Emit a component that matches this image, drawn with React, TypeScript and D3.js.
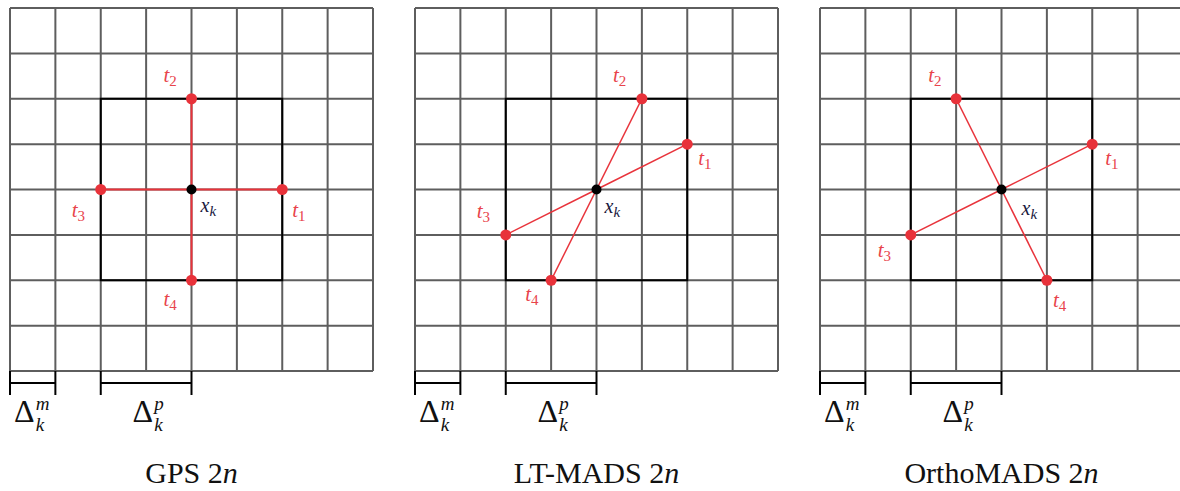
import * as d3 from "d3";

const width = 1180;
const height = 491;

// three poll strategies, same 8x8 mesh around x_k
const panelNames = ["GPS", "LT-MADS", "OrthoMADS"];
const meshCells = 8;
const pollCenter = [4, 4];
const frameHalf = 2; // poll frame half width, in mesh cells
const meshBracket = [0, 1]; // Δ^m spans one cell
const pollBracket = [2, 4]; // Δ^p spans two cells
const bracketSup = ["m", "p"];

// poll directions t1..t4 as grid steps from x_k (rows grow downward)
const gpsDirections = [
  [2, 0],
  [0, -2],
  [-2, 0],
  [0, 2],
];
const ltmadsDirections = [
  [2, -1],
  [1, -2],
  [-2, 1],
  [-1, 2],
];
const orthoDirections = [
  [2, -1],
  [-1, -2],
  [-2, 1],
  [1, 2],
];
const directions = [gpsDirections, ltmadsDirections, orthoDirections];

// label placement (pixels from the point), t1..t4 then x_k
const gpsLabelOffsets = [
  [10, 27],
  [-28, -17],
  [-29, 27],
  [-28, 26],
  [9, 22],
];
const ltmadsLabelOffsets = [
  [11, 21],
  [-29, -17],
  [-29, -17],
  [-26, 21],
  [8, 23],
];
const orthoLabelOffsets = [
  [13, 21],
  [-28, -17],
  [-33, 22],
  [6, 27],
  [20, 25],
];
const labelOffsets = [gpsLabelOffsets, ltmadsLabelOffsets, orthoLabelOffsets];

const red = "#e8323a";
const labelRed = "#e8434b";
const gridGray = "#5e5e5e";
const serif = "'Liberation Serif', 'DejaVu Serif', serif";

const panelX = d3.scaleLinear().domain([0, 2]).range([10, 820]);
const gx = d3.scaleLinear().domain([0, meshCells]).range([0, 363]);
const gy = d3.scaleLinear().domain([0, meshCells]).range([8, 371]);

const Panel = ({ index }: { index: number }) => {
  const dirs = directions[index];
  const offs = labelOffsets[index];
  const cx = gx(pollCenter[0]);
  const cy = gy(pollCenter[1]);
  const pts = dirs.map(([dx, dy]) => [
    gx(pollCenter[0] + dx),
    gy(pollCenter[1] + dy),
  ]);
  const ticks = d3.range(meshCells + 1);
  const lineW = index === 0 ? 2 : 1.5;
  const brackets = [meshBracket, pollBracket];
  const bracketY = 383;
  const shift = [1, 6];

  return (
    <g transform={`translate(${panelX(index)},0)`}>
      {ticks.map((t) => (
        <line
          key={"v" + t}
          x1={gx(t)}
          x2={gx(t)}
          y1={gy(0)}
          y2={gy(meshCells)}
          stroke={gridGray}
          strokeWidth={2}
        />
      ))}
      {ticks.map((t) => (
        <line
          key={"h" + t}
          x1={gx(0)}
          x2={gx(meshCells)}
          y1={gy(t)}
          y2={gy(t)}
          stroke={gridGray}
          strokeWidth={2}
        />
      ))}
      <rect
        x={gx(pollCenter[0] - frameHalf)}
        y={gy(pollCenter[1] - frameHalf)}
        width={gx(2 * frameHalf) - gx(0)}
        height={gy(2 * frameHalf) - gy(0)}
        fill="none"
        stroke="#000"
        strokeWidth={2}
      />
      {pts.map((p, i) => (
        <line
          key={"l" + i}
          x1={cx}
          y1={cy}
          x2={p[0]}
          y2={p[1]}
          stroke={red}
          strokeWidth={lineW}
        />
      ))}
      {pts.map((p, i) => (
        <circle key={"p" + i} cx={p[0]} cy={p[1]} r={5.5} fill={red} />
      ))}
      <circle cx={cx} cy={cy} r={5} fill="#000" />

      {pts.map((p, i) => (
        <text
          key={"t" + i}
          x={p[0] + offs[i][0]}
          y={p[1] + offs[i][1]}
          fill={labelRed}
          fontFamily={serif}
          fontSize={21}
        >
          <tspan fontStyle="italic">t</tspan>
          <tspan fontSize={15} dy={4}>
            {i + 1}
          </tspan>
        </text>
      ))}
      <text
        x={cx + offs[4][0]}
        y={cy + offs[4][1]}
        fill="#1a1a40"
        fontFamily={serif}
        fontSize={20}
        fontStyle="italic"
      >
        x
        <tspan fontSize={15} dy={4}>
          k
        </tspan>
      </text>

      {brackets.map((b, i) => {
        const x0 = gx(b[0]);
        const x1 = gx(b[1]);
        const mid = (x0 + x1) / 2 + shift[i];
        return (
          <g key={"b" + i}>
            <line x1={x0} x2={x1} y1={bracketY} y2={bracketY} stroke="#000" strokeWidth={2} />
            <line x1={x0} x2={x0} y1={gy(meshCells)} y2={395} stroke="#000" strokeWidth={2} />
            <line x1={x1} x2={x1} y1={gy(meshCells)} y2={395} stroke="#000" strokeWidth={2} />
            <text
              x={mid + 1}
              y={422}
              textAnchor="end"
              fontFamily={serif}
              fontSize={32}
              fill="#111"
            >
              Δ
            </text>
            <text
              x={mid + 2}
              y={410}
              fontFamily={serif}
              fontSize={19}
              fontStyle="italic"
              fill="#111"
            >
              {bracketSup[i]}
            </text>
            <text
              x={mid + 2}
              y={431}
              fontFamily={serif}
              fontSize={19}
              fontStyle="italic"
              fill="#111"
            >
              k
            </text>
          </g>
        );
      })}

      <text
        x={cx}
        y={483}
        textAnchor="middle"
        fontFamily={serif}
        fontSize={30}
        fill="#111"
      >
        {panelNames[index]} 2<tspan fontStyle="italic">n</tspan>
      </text>
    </g>
  );
};

const App = () => {
  return (
    <svg
      width={width}
      height={height}
      style={{ position: "absolute", left: 0, top: 0, background: "#fff" }}
    >
      {panelNames.map((_, i) => (
        <Panel key={i} index={i} />
      ))}
    </svg>
  );
};

export default App;
